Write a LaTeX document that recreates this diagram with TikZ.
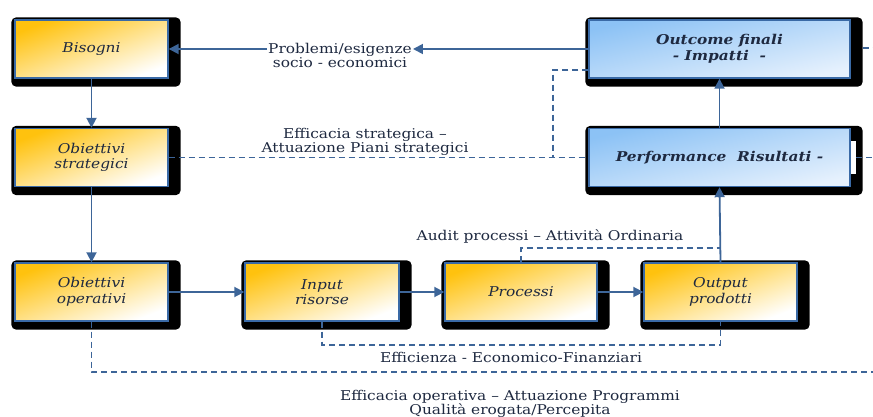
\documentclass[tikz,border=0pt]{standalone}
\usepackage{fontspec}
\setmainfont{DejaVu Serif}[FakeStretch=1.14]
\usetikzlibrary{arrows.meta,backgrounds}

\definecolor{linkblue}{HTML}{3D6598}
\definecolor{edgeblue}{HTML}{3A6AA6}
\definecolor{ink}{HTML}{1E2940}
\definecolor{amber}{HTML}{FFC20E}
\definecolor{sky}{HTML}{8CC2F5}
\definecolor{skypale}{HTML}{E6F1FD}

\tikzset{
  basebox/.style={draw=edgeblue, line width=1.4pt,
    minimum height=58pt, inner sep=2pt, align=center, text=ink},
  ybox/.style={basebox, top color=amber, bottom color=white, shading angle=21,
    minimum width=153pt, font=\itshape\fontsize{13.5}{15.5}\selectfont},
  bbox/.style={basebox, top color=sky, bottom color=skypale, shading angle=13,
    minimum width=261pt, font=\bfseries\itshape\fontsize{13.5}{15.5}\selectfont},
  link/.style={draw=linkblue, line width=1.8pt, -{Triangle[length=10pt,width=10pt]}},
  dlink/.style={draw=linkblue, line width=1.6pt, dash pattern=on 6pt off 4pt},
  note/.style={align=center, inner sep=1pt, text=ink,
    font=\fontsize{13.5}{14}\selectfont},
}

\begin{document}
\begin{tikzpicture}[x=1pt,y=-1pt]
\useasboundingbox (0,0) rectangle (873,417);

% left column
\node[ybox] (bis) at (91.5,49) {Bisogni};
\node[ybox] (str) at (91.5,157.5) {Obiettivi\\strategici};
\node[ybox] (ope) at (91.5,292) {Obiettivi\\operativi};
% operational chain
\node[ybox, minimum width=154pt] (inp) at (322,292) {Input\\risorse};
\node[ybox, minimum width=152pt] (pro) at (521,292) {Processi};
\node[ybox] (out) at (720.5,292) {Output\\prodotti};
% results column
\node[bbox] (oc) at (719.5,49) {Outcome finali\\- Impatti~ -};
\node[bbox] (per) at (719.5,157.5) {Performance~~Risultati -};

% drop shadows
\begin{scope}[on background layer]
  \foreach \n in {bis,str,ope,inp,pro,out,oc,per}
    \fill[black, rounded corners=5pt]
      ([shift={(-3pt,2pt)}]\n.north west) rectangle ([shift={(12pt,-8pt)}]\n.south east);
\end{scope}
\fill[white] (851,141) rectangle (856,174);

% labels
\node[note] (prob) at (340,55) {Problemi/esigenze\\socio - economici};
\node[note] (strat) at (365,141.5) {Efficacia strategica –\\Attuazione Piani strategici};
\node[note] (audit) at (550,237) {Audit processi – Attività Ordinaria};
\node[note] (effi) at (511,357) {Efficienza - Economico-Finanziari};
\node[note] (effo) at (510,404) {Efficacia operativa – Attuazione Programmi\\Qualità erogata/Percepita};

% junction and edge points
\coordinate (j1) at (553,157.5);
\coordinate (j2) at (720.5,248);
\coordinate (e1) at (873,48);
\coordinate (e2) at (873,157.5);
\coordinate (e3) at (873,372);

% solid flow
\draw[link] (oc.west) -- (oc.west -| prob.east);
\draw[link] (oc.west -| prob.west) -- (bis.east);
\draw[link] (bis.south) -- (str.north);
\draw[link] (str.south) -- (ope.north);
\draw[link] (ope.east) -- (inp.west);
\draw[link] (inp.east) -- (pro.west);
\draw[link] (pro.east) -- (out.west);
\draw[link] (out.north) -- (per.south);
\draw[link] (per.north) -- (oc.north |- oc.south);

% dashed measures
\draw[dlink] (str.east) -- (per.west);
\draw[dlink] ([yshift=-21pt]oc.west) -| (j1);
\draw[dlink] ([xshift=12pt,yshift=1pt]oc.east) -- (e1);
\draw[dlink] (856,157.5) -- (e2);
\draw[dlink] (pro.north) |- (j2);
\draw[dlink] (inp.south) -- ++(0,23) -| (out.south);
\draw[dlink] (ope.south) |- (e3);
\end{tikzpicture}
\end{document}
